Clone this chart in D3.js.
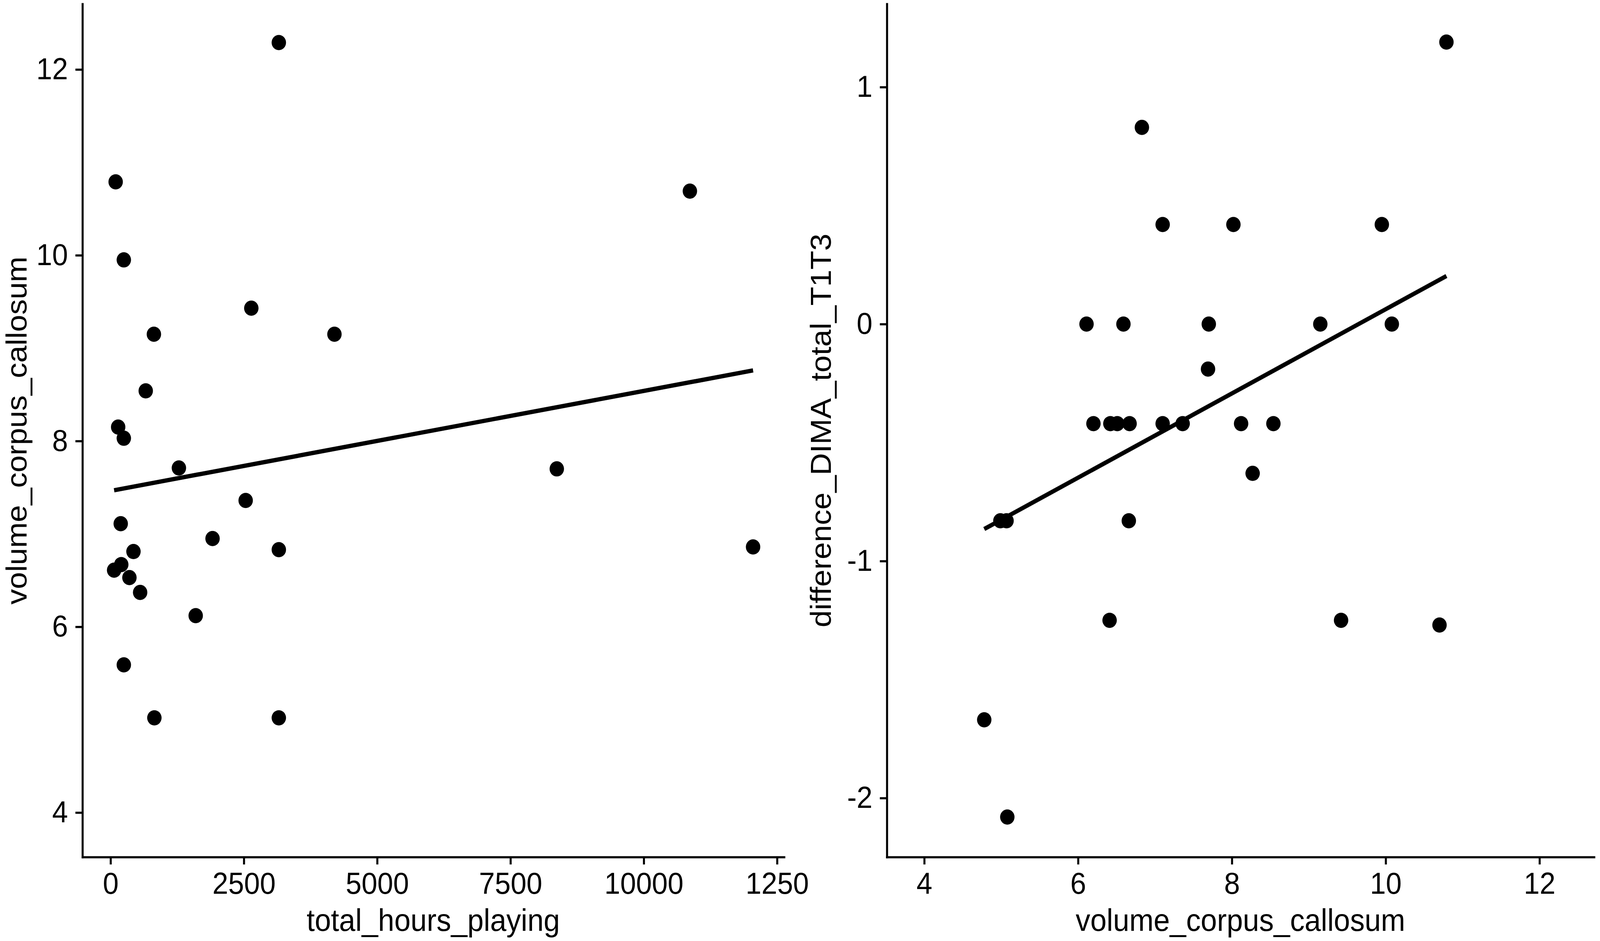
<!DOCTYPE html>
<html>
<head>
<meta charset="utf-8">
<script src="https://cdn.jsdelivr.net/npm/d3@7"></script>
<style>
  html, body { margin: 0; padding: 0; background: #fff; overflow: hidden; }
  svg { display: block; width: 100vw; height: 100vh; }
  text { font-family: "Liberation Sans", Arial, Helvetica, sans-serif; fill: #000; }
</style>
</head>
<body>
<svg viewBox="0 0 4328 2410" preserveAspectRatio="none"></svg>
<script>
// left panel: total_hours_playing vs volume_corpus_callosum
const hoursPlaying = [3156, 96, 10865, 249, 2640, 813, 4199, 660, 143, 249, 1282, 8369, 2534,
  191, 1913, 430, 3156, 12050, 201, 67, 354, 555, 1597, 249, 822, 3156]
const volumeLeft = [12.29, 10.79, 10.69, 9.95, 9.43, 9.15, 9.15, 8.54, 8.15, 8.03, 7.71, 7.70, 7.36,
  7.11, 6.95, 6.81, 6.83, 6.86, 6.67, 6.61, 6.53, 6.37, 6.12, 5.59, 5.02, 5.02]
const fitLeftX = [67, 12050]
const fitLeftY = [7.47, 8.76]

// right panel: volume_corpus_callosum vs difference_DIMA_total_T1T3
const volumeRight = [10.79, 6.83, 7.10, 8.02, 9.95, 6.11, 6.59, 7.70, 9.15, 10.08, 7.69, 6.20, 6.42,
  6.51, 6.67, 7.10, 7.36, 8.12, 8.54, 8.27, 4.99, 5.07, 6.66, 6.41, 9.42, 10.70, 4.78, 5.08]
const diffDima = [1.19, 0.83, 0.42, 0.42, 0.42, 0, 0, 0, 0, 0, -0.19, -0.42, -0.42,
  -0.42, -0.42, -0.42, -0.42, -0.42, -0.42, -0.63, -0.83, -0.83, -0.83, -1.25, -1.25, -1.27, -1.67, -2.08]
const fitRightX = [4.78, 10.79]
const fitRightY = [-0.865, 0.203]

const hoursTicks = [0, 2500, 5000, 7500, 10000, 12500]
const hoursTickLabels = ["0", "2500", "5000", "7500", "10000", "1250"]
const volumeTicks = [4, 6, 8, 10, 12]
const volumeTickLabels = ["4", "6", "8", "10", "12"]
const diffTicks = [-2, -1, 0, 1]
const diffTickLabels = ["-2", "-1", "0", "1"]

// the drawing is laid out on a 4328x2410 canvas and stretched to the viewport
const svg = d3.select("svg")
const plotTop = 10, plotBottom = 2195
const tickFont = 77, titleFont = 79

const panels = [
  {
    x: d3.scaleLinear().domain([-527, 12632]).range([223, 2121]),
    y: d3.scaleLinear().domain([3.521, 12.706]).range([plotBottom, plotTop]),
    xs: hoursPlaying, ys: volumeLeft, fx: fitLeftX, fy: fitLeftY,
    xTicks: hoursTicks, xLabels: hoursTickLabels,
    yTicks: volumeTicks, yLabels: volumeTickLabels,
    xTitle: "total_hours_playing", yTitle: "volume_corpus_callosum", yTitleX: 72
  },
  {
    x: d3.scaleLinear().domain([3.514, 12.71]).range([2399, 4312]),
    y: d3.scaleLinear().domain([-2.249, 1.351]).range([plotBottom, plotTop]),
    xs: volumeRight, ys: diffDima, fx: fitRightX, fy: fitRightY,
    xTicks: volumeTicks, xLabels: volumeTickLabels,
    yTicks: diffTicks, yLabels: diffTickLabels,
    xTitle: "volume_corpus_callosum", yTitle: "difference_DIMA_total_T1T3", yTitleX: 2248
  }
]

panels.forEach(p => {
  const g = svg.append("g")
  const [x0, x1] = p.x.range()

  // points
  g.selectAll(".pt")
    .data(d3.range(p.xs.length))
    .enter()
    .append("circle")
    .attr("class", "pt")
    .attr("cx", i => p.x(p.xs[i]))
    .attr("cy", i => p.y(p.ys[i]))
    .attr("r", 19.5)
    .attr("fill", "#000")

  // linear fit
  g.append("path")
    .datum(d3.range(p.fx.length))
    .attr("fill", "none")
    .attr("stroke", "#000")
    .attr("stroke-width", 11)
    .attr("d", d3.line().x(i => p.x(p.fx[i])).y(i => p.y(p.fy[i])))

  const xAxis = g.append("g")
    .attr("transform", `translate(0, ${plotBottom})`)
    .call(d3.axisBottom(p.x)
      .tickValues(p.xTicks)
      .tickFormat((d, i) => p.xLabels[i])
      .tickSize(19).tickSizeOuter(0).tickPadding(20))

  const yAxis = g.append("g")
    .attr("transform", `translate(${x0}, 0)`)
    .call(d3.axisLeft(p.y)
      .tickValues(p.yTicks)
      .tickFormat((d, i) => p.yLabels[i])
      .tickSize(19).tickSizeOuter(0).tickPadding(20))

  ;[xAxis, yAxis].forEach(a => {
    a.select(".domain").attr("stroke", "#000").attr("stroke-width", 5.5).attr("stroke-linecap", "square")
    a.selectAll(".tick line").attr("stroke", "#000").attr("stroke-width", 5.5)
    a.selectAll(".tick text")
      .attr("font-family", "Liberation Sans, Arial, sans-serif")
      .attr("font-size", tickFont)
      .attr("fill", "#000")
  })

  g.append("text")
    .attr("x", (x0 + x1) / 2)
    .attr("y", 2384)
    .attr("text-anchor", "middle")
    .attr("font-size", titleFont)
    .text(p.xTitle)

  g.append("text")
    .attr("transform", `translate(${p.yTitleX}, ${(plotTop + plotBottom) / 2}) rotate(-90)`)
    .attr("text-anchor", "middle")
    .attr("font-size", titleFont)
    .text(p.yTitle)
})
</script>
</body>
</html>
